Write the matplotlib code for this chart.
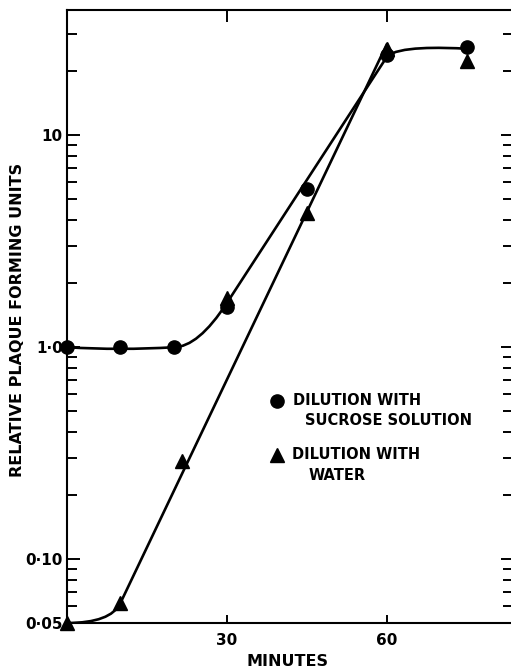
import matplotlib
matplotlib.use("Agg")
import matplotlib.pyplot as plt
from matplotlib.path import Path
from matplotlib.patches import PathPatch
from matplotlib.ticker import FixedLocator, LogLocator, NullFormatter

# ---- data ----
sucrose_min = [0, 10, 20, 30, 45, 60, 75]
sucrose_pfu = [1.0, 1.0, 1.0, 1.55, 5.6, 23.8, 26.0]

water_min = [0, 10, 21.5, 30, 45, 60, 75]
water_pfu = [0.05, 0.062, 0.29, 1.7, 4.3, 25.5, 22.5]

# hand-drawn fitted curves: knots / Bezier control points
sucrose_fit_min = [0, 10, 20, 24.6, 30, 60, 62, 70, 75]
sucrose_fit_pfu = [1.0, 0.965, 1.0, 1.0, 1.62, 23.5, 26.3, 26.0, 25.6]
sucrose_fit_codes = [Path.MOVETO, Path.CURVE3, Path.CURVE3, Path.CURVE3, Path.CURVE3,
                     Path.LINETO, Path.CURVE4, Path.CURVE4, Path.CURVE4]

water_fit_min = [0, 8.2, 10, 60]
water_fit_pfu = [0.05, 0.05, 0.062, 27.0]
water_fit_codes = [Path.MOVETO, Path.CURVE3, Path.CURVE3, Path.LINETO]

x_ticks = [30, 60]
x_ticklabels = ["30", "60"]
y_ticks = [0.05, 0.1, 1.0, 10]
y_ticklabels = ["0\u00b705", "0\u00b710", "1\u00b70", "10"]

legend_labels = [("DILUTION WITH", "SUCROSE SOLUTION"), ("DILUTION WITH", "WATER")]

# ---- figure ----
plt.rcParams["font.family"] = ["DejaVu Sans"]
plt.rcParams["font.weight"] = "bold"
W, H = 511, 669
fig = plt.figure(figsize=(W / 100, H / 100), dpi=100)
L, R, T, B = 67, 511, 10, 623
ax = fig.add_axes([L / W, 1 - B / H, (R - L) / W, (B - T) / H])

ax.set_yscale("log")
ax.set_xlim(0, 83.25)
ax.set_ylim(0.05, 39)

lw = 1.9
for mins, pfu, codes in [(sucrose_fit_min, sucrose_fit_pfu, sucrose_fit_codes),
                         (water_fit_min, water_fit_pfu, water_fit_codes)]:
    path = Path(list(zip(mins, pfu)), codes)
    ax.add_patch(PathPatch(path, facecolor="none", edgecolor="black", lw=lw,
                           transform=ax.transData, zorder=2, capstyle="round"))

ax.plot(sucrose_min, sucrose_pfu, linestyle="none", marker="o", ms=9.5,
        color="black", zorder=3, clip_on=False)
ax.plot(water_min, water_pfu, linestyle="none", marker="^", ms=9.5,
        color="black", zorder=4, clip_on=False)

# spines
for s in ["left", "top", "bottom"]:
    ax.spines[s].set_linewidth(1.5)
ax.spines["right"].set_visible(False)

# ticks
ax.xaxis.set_major_locator(FixedLocator(x_ticks))
ax.set_xticklabels(x_ticklabels)
ax.yaxis.set_major_locator(FixedLocator(y_ticks))
ax.set_yticklabels(y_ticklabels)
ax.yaxis.set_minor_locator(LogLocator(base=10, subs=range(2, 10), numticks=20))
ax.yaxis.set_minor_formatter(NullFormatter())
ax.xaxis.set_minor_locator(FixedLocator([]))
ax.tick_params(axis="y", which="major", direction="in", length=9.5, width=1.4,
               labelsize=11, pad=3, right=False)
ax.tick_params(axis="y", which="minor", direction="in", length=7, width=1.4, right=False)
ax.tick_params(axis="x", which="major", direction="in", length=6, width=1.4,
               labelsize=11, pad=7, top=False)

# right-hand ticks
axr = ax.twinx()
axr.set_yscale("log")
axr.set_ylim(ax.get_ylim())
for s in axr.spines.values():
    s.set_visible(False)
axr.yaxis.set_major_locator(FixedLocator(y_ticks))
axr.yaxis.set_minor_locator(LogLocator(base=10, subs=range(2, 10), numticks=20))
axr.yaxis.set_major_formatter(NullFormatter())
axr.yaxis.set_minor_formatter(NullFormatter())
axr.tick_params(axis="y", which="major", direction="in", length=7.5, width=1.4)
axr.tick_params(axis="y", which="minor", direction="in", length=6, width=1.4)

# top ticks
axt = ax.secondary_xaxis("top")
axt.set_xticks(x_ticks)
axt.set_xticklabels([])
axt.tick_params(axis="x", direction="in", length=8.5, width=1.4)
axt.spines["top"].set_visible(False)

# axis labels
ax.set_xlabel("MINUTES", fontsize=11.5, fontweight="bold", va="center")
ax.xaxis.set_label_coords(0.496, -0.062)
ax.set_ylabel("RELATIVE PLAQUE FORMING UNITS", fontsize=11.5, fontweight="bold", va="center")
ax.yaxis.set_label_coords((18 - L) / (R - L), 0.494)

# key
key_x = (277 - L) / (R - L)
key_marks = ["o", "^"]
key_rows = [(401, 421, 293, 305), (455, 476, 292, 309)]
for mark, (l1, l2), (y1, y2, tx1, tx2) in zip(key_marks, legend_labels, key_rows):
    ya1 = (B - y1) / (B - T)
    ya2 = (B - y2) / (B - T)
    ax.plot([key_x], [ya1], marker=mark, ms=9.5, color="black", linestyle="none",
            transform=ax.transAxes)
    ax.text((tx1 - L) / (R - L), ya1, l1, transform=ax.transAxes, fontsize=10.5,
            fontweight="bold", va="center", ha="left")
    ax.text((tx2 - L) / (R - L), ya2, l2, transform=ax.transAxes, fontsize=10.5,
            fontweight="bold", va="center", ha="left")

fig.savefig("out.png", dpi=100)
